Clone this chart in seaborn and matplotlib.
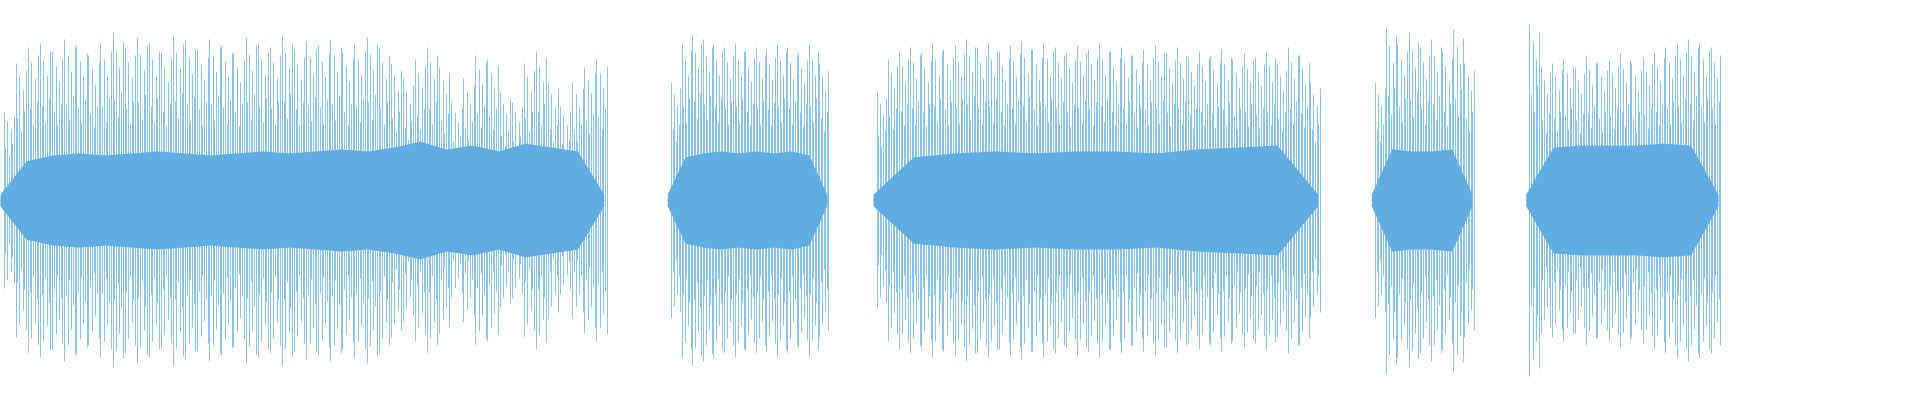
import numpy as np
import matplotlib
matplotlib.use("Agg")
import matplotlib.pyplot as plt
import seaborn as sns

# segment bounds (x units ~ pixels of the reference width 1568)
seg_start = [0, 545, 713, 1120, 1246]
seg_end = [493, 675, 1076, 1202, 1403]

# outer peak amplitudes per segment (fraction of half height)
peaks = [
    [0.45, 0.7, 0.78, 0.8, 0.76, 0.82, 0.79, 0.74, 0.8, 0.85, 0.78, 0.83, 0.8, 0.76, 0.84,
     0.81, 0.77, 0.82, 0.79, 0.75, 0.83, 0.8, 0.78, 0.84, 0.77, 0.81, 0.79, 0.82, 0.76, 0.8,
     0.83, 0.78, 0.7, 0.62, 0.72, 0.78, 0.68, 0.5, 0.62, 0.74, 0.72, 0.55, 0.5, 0.7, 0.76,
     0.6, 0.48, 0.6, 0.68, 0.72],
    [0.6, 0.8, 0.84, 0.82, 0.8, 0.78, 0.8, 0.76, 0.78, 0.77, 0.8, 0.78, 0.75, 0.8, 0.7],
    [0.55, 0.72, 0.76, 0.78, 0.75, 0.8, 0.77, 0.79, 0.82, 0.78, 0.8, 0.76, 0.79, 0.81, 0.77,
     0.8, 0.78, 0.75, 0.79, 0.77, 0.8, 0.76, 0.78, 0.74, 0.77, 0.79, 0.75, 0.78, 0.73, 0.76,
     0.74, 0.77, 0.72, 0.75, 0.73, 0.76, 0.7, 0.78, 0.74, 0.6],
    [0.6, 0.88, 0.8, 0.85, 0.78, 0.82, 0.76, 0.87, 0.7],
    [0.9, 0.68, 0.7, 0.72, 0.68, 0.74, 0.7, 0.72, 0.75, 0.7, 0.73, 0.76, 0.78, 0.8, 0.82,
     0.8, 0.78],
]

# dense inner band amplitude per segment
bands = [
    [0.03, 0.2, 0.23, 0.24, 0.23, 0.24, 0.25, 0.24, 0.23, 0.24, 0.25, 0.24, 0.25, 0.26, 0.25,
     0.27, 0.3, 0.26, 0.28, 0.25, 0.29, 0.27, 0.25, 0.03],
    [0.03, 0.22, 0.24, 0.25, 0.24, 0.25, 0.24, 0.25, 0.23, 0.03],
    [0.03, 0.22, 0.24, 0.25, 0.24, 0.25, 0.25, 0.24, 0.26, 0.27, 0.28, 0.03],
    [0.03, 0.26, 0.25, 0.25, 0.26, 0.03],
    [0.03, 0.27, 0.28, 0.28, 0.28, 0.29, 0.28, 0.03],
]

color = "#5FACE2"
# fractions used to thicken the spike texture between listed peaks
sub_frac = [1.0, 0.6, 0.9, 0.5, 0.8, 0.65, 0.95]

sns.set_theme(style="white")
fig = plt.figure(figsize=(19.2, 4), dpi=100)
ax = fig.add_axes([0, 0, 1, 1])

for s, e, p, b in zip(seg_start, seg_end, peaks, bands):
    p = np.array(p)
    xb = np.linspace(s, e, len(b))
    ax.fill_between(xb, -np.array(b), np.array(b), color=color, lw=0)
    xp = np.linspace(s + 3, e - 6, len(p))
    dx = (xp[1] - xp[0]) / len(sub_frac)
    for k, f in enumerate(sub_frac):
        ax.vlines(xp + k * dx, -p * f, p * f, color=color, lw=0.7, alpha=0.75)
    ax.hlines(0, s, e, color=color, lw=1)

ax.set_xlim(0, 1568)
ax.set_ylim(-1.02, 1.02)
ax.axis("off")
fig.savefig("out.png", dpi=100)
